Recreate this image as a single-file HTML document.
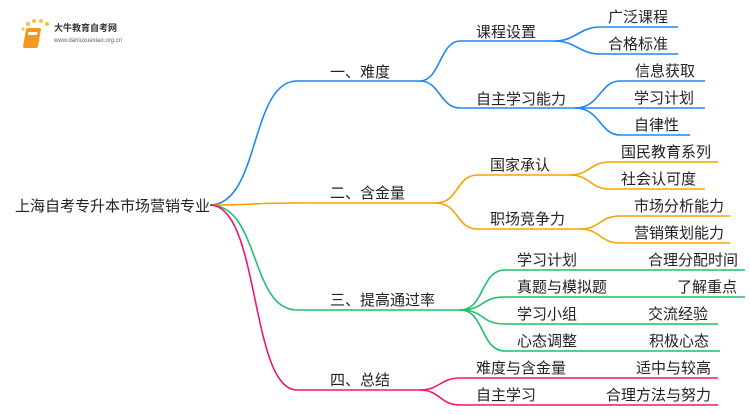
<!DOCTYPE html>
<html><head><meta charset="utf-8"><style>
body{margin:0;background:#fff;width:750px;height:410px;overflow:hidden}
text{font-family:"Liberation Sans","Noto Sans CJK SC",sans-serif;font-size:15px;fill:#222}
</style></head><body>
<svg width="750" height="410" viewBox="0 0 750 410" fill="none" stroke-width="1.6">
<g transform="translate(20,18)">
<circle cx="8" cy="6" r="2" fill="#f5c04a"/><circle cx="14" cy="3" r="2" fill="#f5c04a"/><circle cx="21" cy="3" r="2" fill="#f5c04a"/><circle cx="27" cy="6" r="2" fill="#f5c04a"/><circle cx="3" cy="11" r="1.5" fill="#f5c04a"/>
<rect x="8" y="10" width="15" height="20" rx="2" fill="#f39a1e" transform="skewX(-10)"/>
<rect x="11" y="14" width="9" height="3" fill="#fff" transform="skewX(-10)"/>
</g>
<text x="54" y="31" style="font-size:9px;font-weight:bold;fill:#333">大牛教育自考网</text>
<text x="54" y="42" style="font-size:6px;fill:#666">www.daniuxuexiao.org.cn</text>

<text x="15" y="211" style="font-size:15px">上海自考专升本市场营销专业</text>

<g stroke="#1e88f5">
<path d="M210 205 C260 205 250 81 297 81 H420"/>
<path d="M420 81 C440 81 440 41 460 41 H555"/>
<path d="M420 81 C440 81 440 108 460 108 H575"/>
<path d="M555 41 C575 41 580 27 600 27 H678"/>
<path d="M555 41 C575 41 580 54 600 54 H678"/>
<path d="M575 108 C600 108 600 81 620 81 H705"/>
<path d="M575 108 H705"/>
<path d="M575 108 C600 108 600 135 620 135 H690"/>
</g>
<g stroke="#f5a300">
<path d="M210 205 C260 205 250 203 297 203 H435"/>
<path d="M435 203 C460 203 455 175 478 175 H570"/>
<path d="M435 203 C460 203 455 229 478 229 H580"/>
<path d="M570 175 C590 175 590 162 610 162 H718"/>
<path d="M570 175 C590 175 590 189 610 189 H705"/>
<path d="M580 229 C600 229 600 216 620 216 H730"/>
<path d="M580 229 C600 229 600 243 620 243 H730"/>
</g>
<g stroke="#1dc26a">
<path d="M210 205 C260 205 250 310 297 310 H460"/>
<path d="M460 310 C485 310 480 270 505 270 H745"/>
<path d="M460 310 C485 310 480 297 505 297 H745"/>
<path d="M460 310 C485 310 480 324 505 324 H718"/>
<path d="M460 310 C485 310 480 351 505 351 H720"/>
</g>
<g stroke="#f5136f">
<path d="M210 205 C260 205 250 390 297 390 H420"/>
<path d="M420 390 C440 390 440 378 460 378 H718"/>
<path d="M420 390 C440 390 440 405 460 405 H718"/>
</g>

<text x="330" y="77">一、难度</text>
<text x="476" y="37">课程设置</text>
<text x="476" y="104">自主学习能力</text>
<text x="608" y="22">广泛课程</text>
<text x="608" y="49">合格标准</text>
<text x="635" y="76">信息获取</text>
<text x="634" y="103">学习计划</text>
<text x="634" y="130">自律性</text>

<text x="330" y="198">二、含金量</text>
<text x="490" y="170">国家承认</text>
<text x="490" y="224">职场竞争力</text>
<text x="621" y="157">国民教育系列</text>
<text x="621" y="184">社会认可度</text>
<text x="634" y="211">市场分析能力</text>
<text x="634" y="238">营销策划能力</text>

<text x="330" y="305">三、提高通过率</text>
<text x="517" y="265">学习计划</text>
<text x="517" y="292">真题与模拟题</text>
<text x="517" y="319">学习小组</text>
<text x="517" y="346">心态调整</text>
<text x="648" y="265">合理分配时间</text>
<text x="677" y="292">了解重点</text>
<text x="648" y="319">交流经验</text>
<text x="649" y="346">积极心态</text>

<text x="330" y="385">四、总结</text>
<text x="476" y="373">难度与含金量</text>
<text x="476" y="400">自主学习</text>
<text x="636" y="373">适中与较高</text>
<text x="606" y="400">合理方法与努力</text>
</svg>
</body></html>
